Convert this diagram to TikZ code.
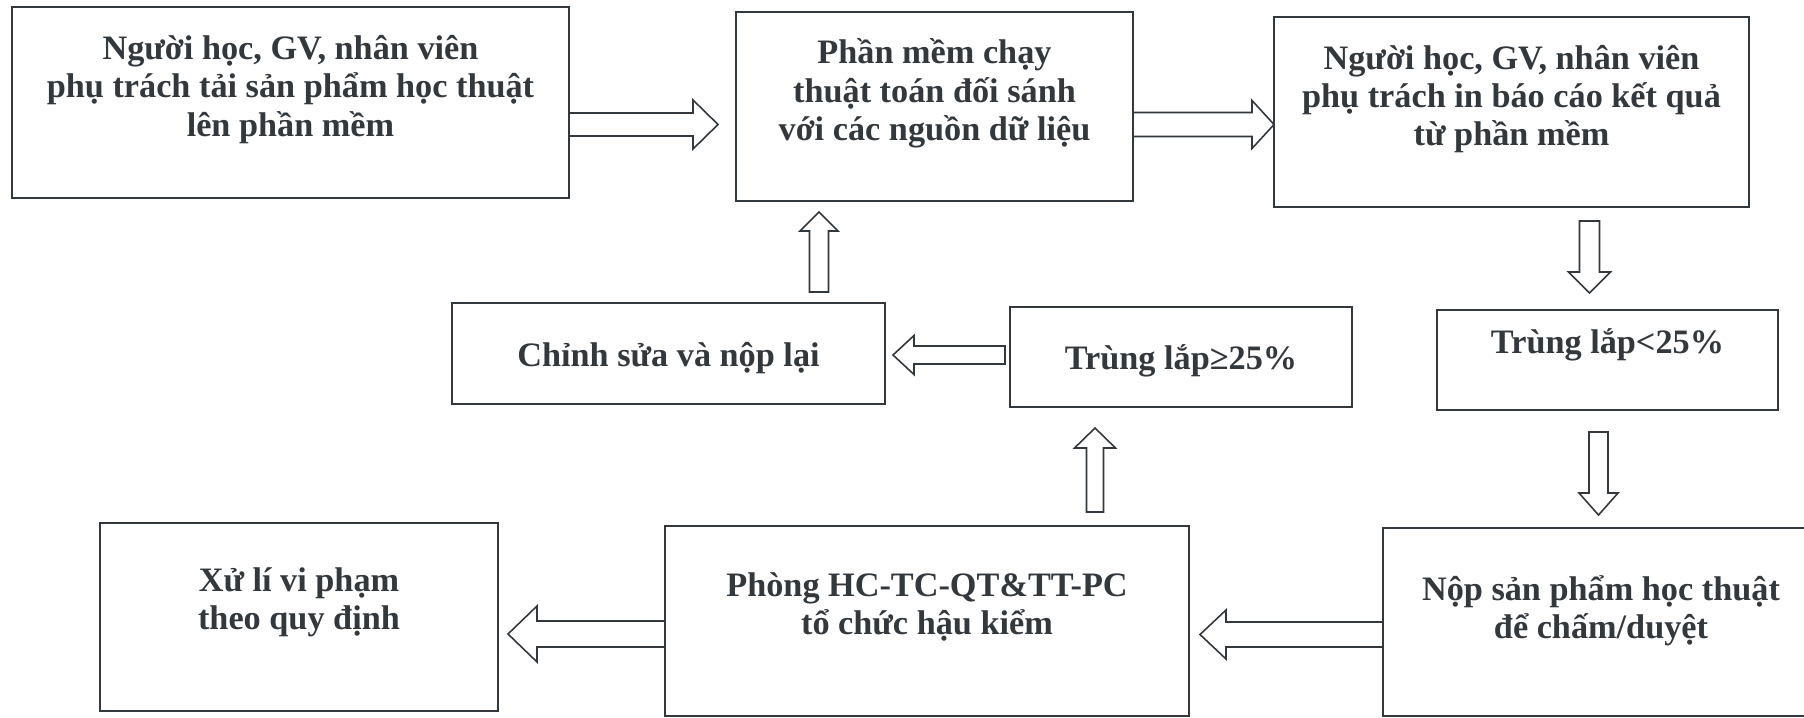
\documentclass[tikz,border=0pt]{standalone}
\usepackage{fontspec}
\setmainfont{Liberation Serif}
\usepackage{tikz}
\usetikzlibrary{calc}
\definecolor{ink}{rgb}{0.2,0.22,0.24}

% hollow block arrow: tail, tip, shaft half width, head half width, head length (px)
\newcommand{\fatarrow}[5]{%
  \pgfmathsetlengthmacro{\as}{#3*0.02cm}%
  \pgfmathsetlengthmacro{\ah}{#4*0.02cm}%
  \pgfmathsetlengthmacro{\al}{#5*0.02cm}%
  \coordinate (neck) at ($(#2)!\al!(#1)$);
  \draw[arrowline] ($(#1)!\as!90:(#2)$) -- ($(neck)!\as!90:(#2)$) -- ($(neck)!\ah!90:(#2)$)
    -- (#2) -- ($(neck)!\ah!-90:(#2)$) -- ($(neck)!\as!-90:(#2)$) -- ($(#1)!\as!-90:(#2)$) -- cycle;
}

\begin{document}
\begin{tikzpicture}[x=0.02cm, y=-0.02cm,
  box/.style={draw=ink, line width=1.2pt, inner sep=0pt, outer sep=0pt},
  txt/.style={text=ink, font=\fontsize{19.5}{21.8}\selectfont\bfseries, align=center, inner sep=0pt},
  arrowline/.style={draw=ink, line width=0.9pt, line join=miter}]
\useasboundingbox[fill=white] (0,0) rectangle (1804,717);

\foreach \nm/\x/\y/\w/\h in {
A/290.5/102.5/557/191, B/934.5/106.5/397/189, C/1511.5/112/475/190,
D/1607.5/360/341/100, G/1181/357/342/100, Ch/668.5/353.5/433/101,
E/1601/622/436/188, F/927/621/524/190, H/299/617/398/188
}{
\node[box, minimum width=\w*0.02cm, minimum height=\h*0.02cm] (\nm) at (\x,\y) {};
}

\node[txt] (tA) at ($(A.center)+(0,-13)$) {Người học, GV, nhân viên\\phụ trách tải sản phẩm học thuật\\lên phần mềm};
\node[txt] (tB) at ($(B.center)+(0,-13)$) {Phần mềm chạy\\thuật toán đối sánh\\với các nguồn dữ liệu};
\node[txt] (tC) at ($(C.center)+(0,-13)$) {Người học, GV, nhân viên\\phụ trách in báo cáo kết quả\\từ phần mềm};
\node[txt] (tD) at ($(D.center)+(0,-15)$) {Trùng lắp<25\%};
\node[txt] (tG) at ($(G.center)+(0,4)$) {Trùng lắp≥25\%};
\node[txt] (tCh) at ($(Ch.center)+(0,5)$) {Chỉnh sửa và nộp lại};
\node[txt] (tE) at ($(E.center)+(0,-11)$) {Nộp sản phẩm học thuật\\để chấm/duyệt};
\node[txt] (tF) at ($(F.center)+(0,-14)$) {Phòng HC-TC-QT\&TT-PC\\tổ chức hậu kiểm};
\node[txt] (tH) at ($(H.center)+(0,-15)$) {Xử lí vi phạm\\theo quy định};

% arrow ends
\coordinate (ab1) at ($(A.east)+(0,22)$);
\coordinate (ab2) at ($(ab1-|B.west)+(-18,0)$);
\coordinate (bc1) at ($(B.east)+(0,18)$);
\coordinate (bc2) at (bc1-|C.west);
\coordinate (cd1) at ($(C.south)+(78,14)$);
\coordinate (cd2) at ($(cd1|-D.north)+(0,-17)$);
\coordinate (de1) at ($(D.south)+(-9,22)$);
\coordinate (de2) at ($(de1|-E.north)+(0,-13)$);
\coordinate (ef1) at ($(E.west)+(0,12.5)$);
\coordinate (ef2) at ($(ef1-|F.east)+(11,0)$);
\coordinate (fh1) at ($(F.west)+(0,13)$);
\coordinate (fh2) at ($(fh1-|H.east)+(10,0)$);
\coordinate (fg1) at ($(F.north)+(168,-14)$);
\coordinate (fg2) at ($(fg1|-G.south)+(0,21)$);
\coordinate (gc1) at ($(G.west)+(-5,-2)$);
\coordinate (gc2) at ($(gc1-|Ch.east)+(8,0)$);
\coordinate (cb1) at ($(Ch.north)+(150.5,-11)$);
\coordinate (cb2) at ($(cb1|-B.south)+(0,11)$);

\fatarrow{ab1}{ab2}{11.5}{24.5}{25}
\fatarrow{bc1}{bc2}{12}{24}{22}
\fatarrow{cd1}{cd2}{10}{21}{21}
\fatarrow{de1}{de2}{9.5}{19.5}{22}
\fatarrow{ef1}{ef2}{12.5}{24.5}{26}
\fatarrow{fh1}{fh2}{13}{28}{29}
\fatarrow{fg1}{fg2}{8.5}{20.5}{20}
\fatarrow{gc1}{gc2}{9}{19.5}{21}
\fatarrow{cb1}{cb2}{9.5}{19}{19}
\end{tikzpicture}
\end{document}
